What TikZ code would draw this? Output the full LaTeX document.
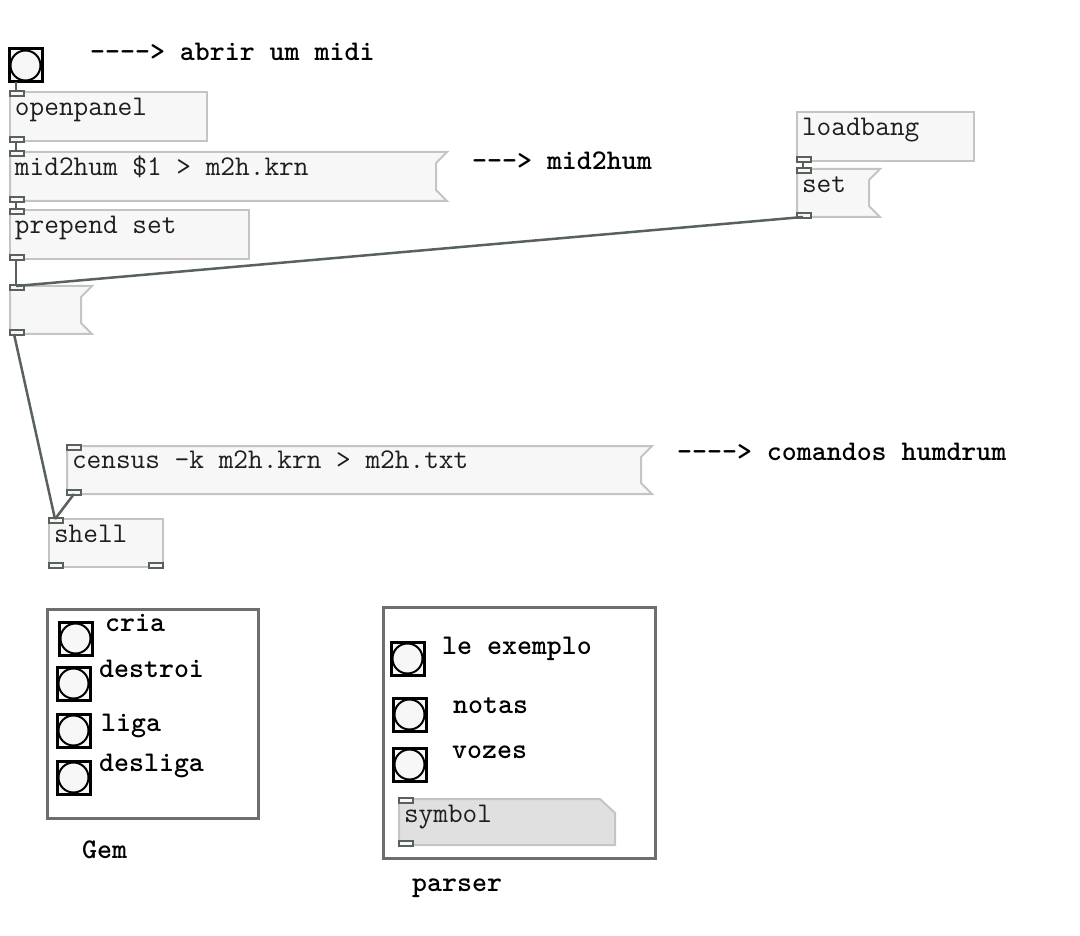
\documentclass[tikz,border=0pt]{standalone}
\usepackage{fontspec}
\usetikzlibrary{backgrounds}

\definecolor{boxfill}{RGB}{246,247,246}
\definecolor{boxgray}{RGB}{196,196,196}
\definecolor{wiregray}{RGB}{88,98,90}
\definecolor{framegray}{RGB}{110,110,110}
\definecolor{symfill}{RGB}{224,224,224}
\definecolor{textdark}{RGB}{30,30,30}

\tikzstyle{obj}=[shape=rectangle,
	       anchor=north west,
	       draw=boxgray,
	       fill=boxfill,
	       line width=2pt,
	       inner xsep=5pt, inner ysep=0pt, outer sep=0pt,
	       text height=24pt, text depth=25pt,
	       align=flush left,
	       text=textdark,
	       font=\ttfamily\fontsize{28.5}{30}\selectfont]
\tikzstyle{msg}=[obj, draw=none, fill=none]
\tikzstyle{atom}=[msg, text height=23pt, text depth=23pt]
\tikzstyle{bng}=[shape=rectangle,
	       anchor=north west,
	       draw=black,
	       fill=boxfill,
	       line width=3pt,
	       minimum size=33pt, inner sep=0pt, outer sep=0pt,
	       path picture={\draw[line width=2pt] (path picture bounding box.center) circle (15pt);}]
\tikzstyle{gop}=[shape=rectangle, anchor=north west, draw=framegray, line width=3pt, inner sep=0pt, outer sep=0pt]
\tikzstyle{cmt}=[anchor=base west, inner sep=0pt, font=\ttfamily\bfseries\fontsize{28.5}{30}\selectfont]
\tikzstyle{port}=[draw=wiregray, fill=boxfill, line width=1.5pt]
\tikzstyle{wire}=[draw=wiregray, line width=2.5pt]

% frame of a message box (notch on the right side)
\newcommand{\msgframe}[1]{%
  \begin{pgfonlayer}{background}
  \draw[draw=boxgray, fill=boxfill, line width=2pt] (#1.north west) -- (#1.north east)
    -- ([xshift=-11pt, yshift=-11pt]#1.north east) -- ([xshift=-11pt, yshift=11pt]#1.south east)
    -- (#1.south east) -- (#1.south west) -- cycle;
  \end{pgfonlayer}}
% frame of a symbol atom (cut corner top right)
\newcommand{\atomframe}[1]{%
  \begin{pgfonlayer}{background}
  \draw[draw=boxgray, fill=symfill, line width=2pt] (#1.north west) -- ([xshift=-15pt]#1.north east)
    -- ([yshift=-14pt]#1.north east) -- (#1.south east) -- (#1.south west) -- cycle;
  \end{pgfonlayer}}
% inlets and outlets
\newcommand{\inlet}[1]{\draw[port] ([yshift=1pt]#1.north west) rectangle ++(14,5);}
\newcommand{\outlet}[1]{\draw[port] ([yshift=-1pt]#1.south west) rectangle ++(14,-5);}
\newcommand{\rightoutlet}[1]{\draw[port] ([yshift=-1pt]#1.south east) rectangle ++(-14,-5);}

\begin{document}
\begin{tikzpicture}[x=1pt, y=-1pt]

\useasboundingbox (0,0) rectangle (1080,936);

% main chain on the left
\node[bng] (open) at (9,49) {};
\node[obj, text width=187pt] (openpanel) at (10,92) {openpanel};
\node[msg, text width=427pt] (midhum) at (10,152) {mid2hum \$1 > m2h.krn};
\msgframe{midhum}
\node[obj, text width=229pt] (prepend) at (10,210) {prepend set};
\node[msg, text width=72pt, text depth=24pt] (cmdmsg) at (10,286) {};
\msgframe{cmdmsg}

% loadbang on the right
\node[obj, text width=167pt] (loadbang) at (797,112) {loadbang};
\node[msg, text width=73pt, text depth=24pt] (setmsg) at (797,169) {set};
\msgframe{setmsg}

% humdrum command and shell
\node[msg, text width=575pt, text height=22pt, text depth=26pt] (census) at (67,446) {census -k m2h.krn > m2h.txt};
\msgframe{census}
\node[obj, text width=104pt, text height=23pt, text depth=25pt] (shell) at (49,519) {shell};

% comments
\node[cmt] (abrir) at (90,61) {----> abrir um midi};
\node[cmt] (humcmt) at (472,170) {---> mid2hum};
\node[cmt] (humdrum) at (677,460) {----> comandos humdrum};

% Gem panel
\node[gop, minimum width=211pt, minimum height=209pt] (gem) at (47,609) {};
\node[bng] (cria) at (59,622) {};
\node[bng] (destroi) at (57,667) {};
\node[bng] (liga) at (57,714) {};
\node[bng] (desliga) at (57,761) {};
\node[cmt] (crialabel) at (105,631) {cria};
\node[cmt] (destroilabel) at (99,677) {destroi};
\node[cmt] (ligalabel) at (101,731) {liga};
\node[cmt] (deslilabel) at (99,771) {desliga};
\node[cmt] (gemlabel) at (82,858) {Gem};

% parser panel
\node[gop, minimum width=272pt, minimum height=251pt] (parser) at (383,607) {};
\node[bng] (exemplo) at (391,642) {};
\node[bng] (notas) at (393,698) {};
\node[bng] (vozes) at (393,748) {};
\node[cmt] (exemplolabel) at (442,654) {le exemplo};
\node[cmt] (notaslabel) at (453,713) {notas};
\node[cmt] (vozeslabel) at (452,758) {vozes};
\node[atom, text width=206pt] (symbol) at (399,799) {symbol};
\atomframe{symbol}
\node[cmt] (parserlabel) at (412,891) {parser};

% inlets and outlets
\inlet{openpanel} \outlet{openpanel}
\inlet{midhum} \outlet{midhum}
\inlet{prepend} \outlet{prepend}
\inlet{cmdmsg} \outlet{cmdmsg}
\outlet{loadbang}
\inlet{setmsg} \outlet{setmsg}
\inlet{census} \outlet{census}
\inlet{shell} \outlet{shell} \rightoutlet{shell}
\inlet{symbol} \outlet{symbol}

% connections
\draw[wire] ([xshift=7pt]open.south west) -- ([xshift=6pt]openpanel.north west);
\draw[wire] ([xshift=6pt]openpanel.south west) -- ([xshift=6pt]midhum.north west);
\draw[wire] ([xshift=6pt]midhum.south west) -- ([xshift=6pt]prepend.north west);
\draw[wire] ([xshift=6pt]prepend.south west) -- ([xshift=6pt]cmdmsg.north west);
\draw[wire] ([xshift=6pt]loadbang.south west) -- ([xshift=6pt]setmsg.north west);
\draw[wire] ([xshift=6pt]setmsg.south west) -- ([xshift=6pt]cmdmsg.north west);
\draw[wire] ([xshift=4pt]cmdmsg.south west) -- ([xshift=6pt]shell.north west);
\draw[wire] ([xshift=7pt]census.south west) -- ([xshift=6pt]shell.north west);

\end{tikzpicture}
\end{document}
